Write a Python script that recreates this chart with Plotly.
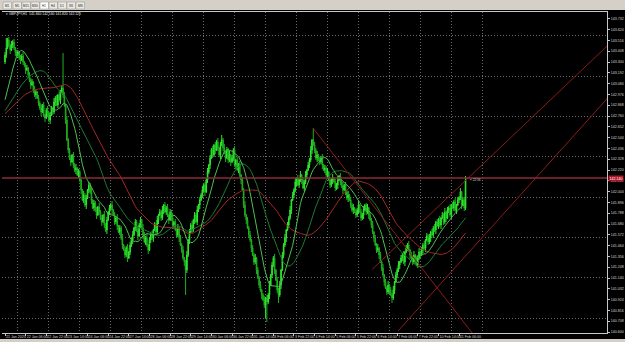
import numpy as np
import pandas as pd
import plotly.graph_objects as go

# ---------------- data ----------------
symbol = "GBPJPY,H1"
start_time = "2020-01-21 14:00"

# closes before the visible window (used only to seed the moving averages)
pre_close = [142.70, 142.74, 142.68, 142.72, 142.78, 142.75, 142.70, 142.66, 142.72, 142.76,
             142.80, 142.74, 142.70, 142.68, 142.64, 142.70, 142.74, 142.78, 142.72, 142.76,
             142.82, 142.78, 142.74, 142.70, 142.76, 142.80, 142.76, 142.72, 142.68, 142.74,
             142.78, 142.72, 142.68, 142.74, 142.80, 142.76, 142.70, 142.74, 142.78, 142.72,
             142.68, 142.74, 142.80, 142.76, 142.72, 142.78, 142.74, 142.70, 142.76, 142.82,
             142.86, 142.98, 143.10, 143.22, 143.30]

close = [
    143.37, 143.44, 143.52, 143.47,
    143.42, 143.47, 143.50, 143.44, 143.40,
    143.37, 143.40, 143.34, 143.32, 143.36, 143.30,
    143.27, 143.22, 143.24, 143.17, 143.12,
    143.07, 143.10, 143.02, 142.97, 143.00, 142.94, 142.89,
    142.84, 142.80, 142.87, 142.77, 142.74, 142.82, 142.79, 142.72,
    142.77, 142.84, 142.80, 142.90, 142.94, 142.87, 142.97, 142.92,
    143.00, 143.04, 142.97, 142.87,
    142.72, 142.52, 142.42, 142.34,
    142.30, 142.37, 142.27, 142.22, 142.24, 142.17, 142.20,
    142.12, 142.02, 141.92, 141.97, 141.87, 141.94, 142.02, 142.07,
    142.00, 141.92, 141.84, 141.89, 141.82, 141.77, 141.85, 141.80,
    141.74, 141.70, 141.77, 141.67, 141.62, 141.72, 141.80, 141.84,
    141.87, 141.82, 141.77, 141.70, 141.74, 141.66, 141.60, 141.64,
    141.54, 141.47, 141.42, 141.37, 141.44, 141.34, 141.40, 141.47,
    141.52, 141.57, 141.64, 141.70, 141.62, 141.56, 141.67, 141.72,
    141.64, 141.57, 141.50, 141.54, 141.47, 141.42, 141.52,
    141.57, 141.54, 141.62, 141.67, 141.60, 141.72, 141.77, 141.80,
    141.74, 141.82, 141.87, 141.80, 141.84, 141.77, 141.72, 141.80,
    141.74, 141.67, 141.70, 141.62, 141.57, 141.64, 141.54, 141.47,
    141.42, 141.34, 141.30, 141.22, 141.37, 141.52,
    141.60, 141.67, 141.62, 141.72, 141.77, 141.70, 141.82, 141.87,
    141.92, 141.97, 142.02, 142.07, 142.00, 142.12, 142.20, 142.27,
    142.34, 142.42, 142.37, 142.47, 142.42, 142.50, 142.44, 142.37,
    142.47, 142.52, 142.44, 142.40, 142.34, 142.42, 142.32, 142.37,
    142.30, 142.34, 142.42, 142.27, 142.32, 142.22, 142.27, 142.17,
    142.12, 142.02, 141.87, 141.77, 141.72, 141.64, 141.57, 141.52,
    141.44, 141.37, 141.30, 141.34, 141.22, 141.14, 141.07, 141.02,
    140.97, 140.92, 140.87, 140.94, 140.90, 140.97, 141.07, 141.17,
    141.27, 141.34, 141.22, 141.12, 141.02, 140.97, 141.07,
    141.22, 141.37, 141.47, 141.54, 141.62, 141.67, 141.74, 141.82,
    141.92, 141.97, 142.02, 142.10, 142.14, 142.07, 142.12, 142.17,
    142.12, 142.04, 142.10, 142.17, 142.22, 142.27, 142.32,
    142.42, 142.52, 142.47, 142.42, 142.34, 142.37, 142.32,
    142.30, 142.34, 142.27, 142.22, 142.24, 142.17, 142.20, 142.12,
    142.07, 142.12, 142.14, 142.10, 142.04, 142.07, 142.12, 142.16,
    142.10, 142.06, 142.02, 142.07, 142.00, 141.94, 141.97, 141.92,
    141.87, 141.82, 141.84, 141.80, 141.77, 141.82, 141.87, 141.80,
    141.74, 141.77, 141.82, 141.87, 141.80, 141.84, 141.77, 141.72,
    141.67, 141.60, 141.54, 141.47, 141.42, 141.44, 141.37, 141.30,
    141.24, 141.17, 141.10, 141.04, 141.00, 141.07, 141.02, 140.97,
    140.94, 141.02, 141.10, 141.17, 141.22, 141.27, 141.30,
    141.34, 141.37, 141.30, 141.40, 141.44, 141.47, 141.42, 141.37,
    141.34, 141.30, 141.37, 141.32, 141.27, 141.34, 141.40, 141.37,
    141.42, 141.47, 141.44, 141.52, 141.56, 141.50, 141.54, 141.60,
    141.57, 141.64, 141.62, 141.70, 141.66, 141.72, 141.67, 141.74,
    141.77, 141.70, 141.80, 141.74, 141.82, 141.84, 141.77, 141.87,
    141.84, 141.90, 141.82, 141.87, 141.92, 141.94, 142.00,
    141.87, 141.92, 141.84, 142.12,
]

# upper / lower wick lengths per bar, base-36 digits in 0.01 price units
wick_up = "".join([
    "3a23142312", "2132412313", "2314213241", "3124132142", "31423z3142",
    "2313241323", "1423132413", "2314231423", "1324132413", "2413241324",
    "1324231432", "4132413241", "3241324132", "4132413241", "2413241324",
    "1324132413", "2413241352", "4132413241", "3241324132", "4132413241",
    "2413241324", "1324132413", "2413241324", "132413241c", "3241324132",
    "4132413241", "3241324132", "4132413241", "2413241324", "1324132413",
    "2413241324", "1324132413", "2413241324", "1324132413", "2413241324",
    "13241324"])
wick_dn = "".join([
    "2312413241", "3241324132", "4132413241", "2413241324", "1324132413",
    "2413241324", "1324132413", "2413241324", "1324132413", "2413241324",
    "1324132413", "2413241324", "1324132413", "2413241324", "p324132413",
    "2413241324", "1324132413", "2413241324", "1324132413", "2413241324",
    "13dk241324", "1382413241", "3241324132", "4132413241", "3241324132",
    "4132413241", "3241324132", "4132413241", "3241324132", "4132413241",
    "5241324132", "4132413241", "3241324132", "4132413241", "3241324132",
    "41324132"])

ma_periods = [14, 34, 55]
ma_colors = ["#4fbf4f", "#1d7a32", "#a52626"]

hline_price = 142.14

# trend lines: (bar index, price) anchor pairs
trend_down_x = [238.8, 368.2]
trend_down_y = [142.64, 140.49]
trend_up1_x = [284.5, 470.0]
trend_up1_y = [141.225, 143.50]
trend_up2_x = [304.7, 470.0]
trend_up2_y = [140.61, 142.98]

countdown = "22:56"
timeframes = ["M1", "M5", "M15", "M30", "H1", "H4", "D1", "W1", "MN"]

# ---------------- build ----------------
N = len(close)
idx = np.arange(N)
opn = [pre_close[-1]] + close[:-1]
up = [int(c, 36) / 100 for c in wick_up[:N]]
dn = [int(c, 36) / 100 for c in wick_dn[:N]]
high = [max(o, c) + u for o, c, u in zip(opn, close, up)]
low = [min(o, c) - d for o, c, d in zip(opn, close, dn)]

ts = pd.date_range(start_time, periods=(N + 60) * 2, freq="h")
ts = ts[ts.weekday < 5][: N + 24]
lab_idx = list(range(0, N, 16))
lab_txt = []
for i in lab_idx:
    d = ts[i]
    lab_txt.append(f"{d.day} {d.strftime('%b')} 2020" if i == 0 else f"{d.day} {d.strftime('%b')} {d.strftime('%H:%M')}")
midnights = [i for i, d in enumerate(ts) if d.hour == 0]

full = pd.Series(pre_close + close)

fig = go.Figure()
for p, col in zip(ma_periods[::-1], ma_colors[::-1]):
    ma = full.rolling(p).mean().to_numpy()[len(pre_close):]
    fig.add_trace(go.Scatter(x=idx, y=ma, mode="lines", line=dict(color=col, width=1), hoverinfo="skip"))

fig.add_trace(go.Candlestick(
    x=idx, open=opn, high=high, low=low, close=close,
    increasing=dict(line=dict(color="#2ee82e", width=1), fillcolor="#2ee82e"),
    decreasing=dict(line=dict(color="#1fb01f", width=1), fillcolor="#138a13"),
    whiskerwidth=0))

for tx, ty in [(trend_down_x, trend_down_y), (trend_up1_x, trend_up1_y), (trend_up2_x, trend_up2_y)]:
    fig.add_trace(go.Scatter(x=tx, y=ty, mode="lines", line=dict(color="#8a1c1c", width=1), hoverinfo="skip"))

# geometry helpers (pixels -> paper), plot area is x 2..607, y 12..333
L, R, T, B = 2, 18, 12, 9
PW, PH = 625 - L - R, 342 - T - B
def px(x):
    return (x - L) / PW
def py(y):
    return (342 - B - y) / PH

x_range = [-3 / 1.29, -3 / 1.29 + PW / 1.29]
y_range = [140.59, 140.59 + PH / 100]
y_labels = [round(140.600 + 0.108 * k, 3) for k in range(40) if 140.600 + 0.108 * k < y_range[1] - 0.03]
grid_prices = [140.74 + 0.403 * k for k in range(8)]

tick_font = dict(size=3.6, color="#d8d8d8", family="Liberation Sans")
grid_style = dict(showgrid=True, gridcolor="#6a6a6a", griddash="1px,2px", gridwidth=1, ticks="")

shapes = [
    dict(type="rect", xref="paper", yref="paper", x0=px(0), x1=px(625), y0=py(10), y1=py(0),
         fillcolor="#d4d0c8", line=dict(width=0), layer="above"),
    dict(type="rect", xref="paper", yref="paper", x0=px(0), x1=px(625), y0=py(342), y1=py(339),
         fillcolor="#d4d0c8", line=dict(width=0), layer="above"),
    dict(type="line", xref="paper", yref="y", x0=0, x1=1, y0=hline_price, y1=hline_price,
         line=dict(color="#8e2a3a", width=1.6)),
]
annotations = []
tab_x = [3, 13, 22, 31, 40, 49, 58, 67, 76]
for tx, name in zip(tab_x, timeframes):
    sel = name == "H1"
    shapes.append(dict(type="rect", xref="paper", yref="paper", x0=px(tx), x1=px(tx + 8.5),
                       y0=py(9), y1=py(2), fillcolor="#ffffff" if sel else "#ece9e2",
                       line=dict(color="#9a9a9a", width=0.6), layer="above"))
    annotations.append(dict(xref="paper", yref="paper", x=px(tx + 4.25), y=py(5.5), text=name,
                            showarrow=False, font=dict(size=3, color="#202020", family="Liberation Sans"),
                            xanchor="center", yanchor="middle"))

annotations.append(dict(
    xref="paper", yref="paper", x=px(4), y=py(14.5), xanchor="left", yanchor="middle", showarrow=False,
    text=f"▾ {symbol}  {opn[-1]:.3f} {high[-1]:.3f} {low[-1]:.3f} {close[-1]:.3f}",
    font=dict(size=3.4, color="#e8e8e8", family="Liberation Sans")))
annotations.append(dict(
    xref="paper", yref="y", x=1, y=hline_price, xanchor="left", yanchor="middle", showarrow=False,
    text=f"{hline_price:.3f}", bgcolor="#b01428", borderpad=0.6, xshift=0.5,
    font=dict(size=3.6, color="#ffffff", family="Liberation Sans")))
annotations.append(dict(
    xref="x", yref="y", x=N + 1, y=close[-1], xanchor="left", yanchor="middle", showarrow=False,
    text=f"« {countdown}", font=dict(size=3.2, color="#d8d8d8", family="Liberation Sans")))

fig.update_layout(
    width=625, height=342, margin=dict(l=L, r=R, t=T, b=B, autoexpand=False),
    paper_bgcolor="#000000", plot_bgcolor="#000000", showlegend=False,
    shapes=shapes, annotations=annotations,
    xaxis=dict(range=x_range, tickmode="array", tickvals=lab_idx, ticktext=lab_txt,
               tickangle=0, automargin=False,
               showgrid=False, zeroline=False, ticks="outside", ticklen=2, tickcolor="#c8c8c8",
               ticklabelposition="outside right", tickfont=tick_font,
               showline=True, linecolor="#c8c8c8", linewidth=1, mirror=True,
               rangeslider=dict(visible=False),
               minor=dict(tickmode="array", tickvals=midnights, **grid_style)),
    yaxis=dict(side="right", range=y_range, tickmode="array", tickvals=y_labels, automargin=False,
               ticktext=[f"{v:.3f}" for v in y_labels], showgrid=False, zeroline=False,
               ticks="outside", ticklen=2, tickcolor="#c8c8c8", tickfont=tick_font,
               showline=True, linecolor="#c8c8c8", linewidth=1,
               minor=dict(tickmode="array", tickvals=grid_prices, **grid_style)),
)

fig.write_html("out.html")
